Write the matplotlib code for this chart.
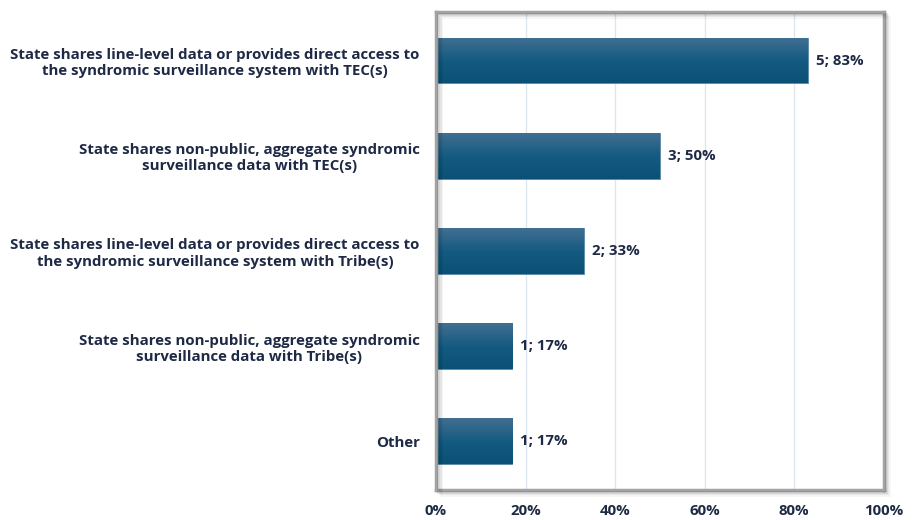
import numpy as np
import matplotlib.pyplot as plt
from matplotlib.ticker import PercentFormatter
from matplotlib.patches import Rectangle
from matplotlib.colors import LinearSegmentedColormap

categories = [
    "State shares line-level data or provides direct access to\nthe syndromic surveillance system with TEC(s)",
    "State shares non-public, aggregate syndromic\nsurveillance data with TEC(s)",
    "State shares line-level data or provides direct access to\nthe syndromic surveillance system with Tribe(s)",
    "State shares non-public, aggregate syndromic\nsurveillance data with Tribe(s)",
    "Other",
]
counts = [5, 3, 2, 1, 1]
percents = [83, 50, 33, 17, 17]
xticks = [0, 20, 40, 60, 80, 100]

text_color = "#1e2a45"
plt.rcParams['font.family'] = ['Open Sans', 'DejaVu Sans']
plt.rcParams['font.weight'] = 'bold'
fs = 10.8

fig = plt.figure(figsize=(9.14, 5.2), dpi=100)
ax = fig.add_axes([0.477, 0.058, 0.490, 0.919])

y = np.arange(len(categories))
bars = ax.barh(y, percents, height=0.48, color="#135a80", edgecolor="#5b87a8",
               linewidth=0.6, zorder=3)

# vertical gradient on each bar
grad = np.linspace(0, 1, 64).reshape(-1, 1)
cmap = LinearSegmentedColormap.from_list("bar", ["#416f91", "#155b81", "#0b5076"])
for b in bars:
    x0, y0, w, h = b.get_x(), b.get_y(), b.get_width(), b.get_height()
    im = ax.imshow(grad, extent=(x0, x0 + w, y0 + h, y0), cmap=cmap,
                   aspect='auto', zorder=4, interpolation='bicubic')
    im.set_clip_path(b)

for yi, p, c in zip(y, percents, counts):
    ax.text(p + 1.8, yi, f"{c}; {p}%", va='center', ha='left',
            fontsize=fs, fontweight='bold', color=text_color, zorder=5)

ax.set_xlim(0, 100)
ax.set_ylim(len(categories) - 0.49, -0.51)
ax.set_xticks(xticks)
ax.xaxis.set_major_formatter(PercentFormatter(decimals=0))
ax.set_yticks(y)
ax.set_yticklabels(categories, ha='right', multialignment='center')
ax.tick_params(axis='y', length=0, pad=0, labelsize=fs, labelcolor=text_color)
ax.tick_params(axis='x', length=0, pad=10, labelsize=fs, labelcolor=text_color)
for lab in ax.get_yticklabels():
    lab.set_x(-0.036)
    lab.set_fontweight('bold')
for lab in ax.get_xticklabels():
    lab.set_fontweight('bold')

ax.grid(axis='x', color="#dce6f1", linewidth=1, zorder=0)
ax.set_axisbelow(True)

# frame with a soft drop shadow
for sp in ax.spines.values():
    sp.set_color("#a3a3a3")
    sp.set_linewidth(2.5)
    sp.set_zorder(6)
pos = ax.get_position()
for i, a in enumerate([0.10, 0.07, 0.04]):
    d = 0.002 * (i + 1)
    fig.patches.append(Rectangle((pos.x0 + d, pos.y0 - d * 1.7), pos.width, pos.height,
                                 transform=fig.transFigure, facecolor='none',
                                 edgecolor='black', alpha=a, linewidth=2, zorder=0))

fig.savefig("out.png", dpi=100)
